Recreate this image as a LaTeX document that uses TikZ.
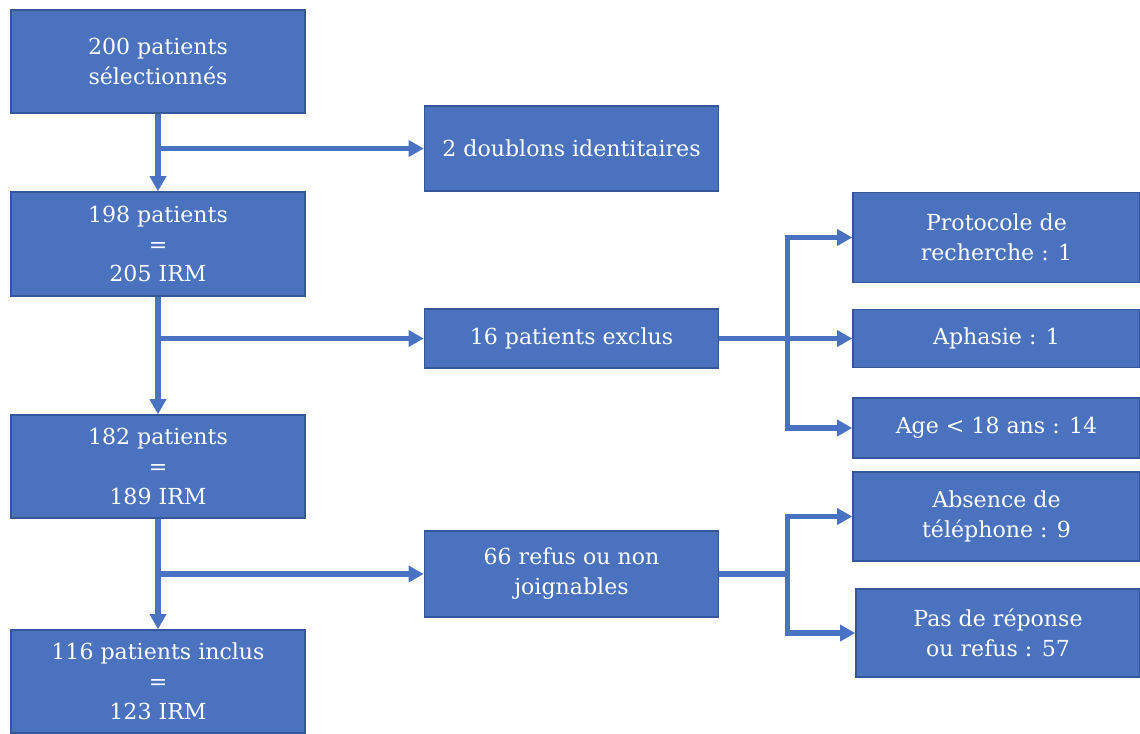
\documentclass[tikz,border=0pt]{standalone}
\usepackage{fontspec}
\setmainfont{DejaVu Serif}
\usetikzlibrary{arrows.meta}
\definecolor{boxblue}{HTML}{4A72BE}
\definecolor{boxline}{HTML}{34569A}
\definecolor{linkblue}{HTML}{4A72C2}
\tikzset{
  box/.style={draw=boxline, line width=1pt, fill=boxblue, text=white, align=center,
    inner sep=0pt, minimum width=7.35cm, font=\fontsize{15.7}{21.3}\selectfont},
  sidebox/.style={box, minimum width=7.175cm},
  link/.style={draw=linkblue, line width=3.6pt},
  arr/.style={link, -{Triangle[length=0.38cm,width=0.4cm]}},
}
\begin{document}
\begin{tikzpicture}[x=0.025cm, y=-0.025cm]
\useasboundingbox (0,0) rectangle (1140,733);
\clip (0,0) rectangle (1140,733);

\node[box, minimum height=2.575cm] (sel) at (158,61.5) {200 patients\\sélectionnés};
\node[box, minimum height=2.125cm] (doub) at (571.5,148.5) {2 doublons identitaires};
\node[box, minimum height=2.6cm] (p198) at (158,244) {198 patients\\=\\205 IRM};
\node[box, minimum height=1.475cm] (excl) at (571.5,338.5) {16 patients exclus};
\node[box, minimum height=2.575cm] (p182) at (158,466.5) {182 patients\\=\\189 IRM};
\node[box, minimum height=2.15cm] (refus) at (571.5,574) {66 refus ou non\\joignables};
\node[box, minimum height=2.575cm] (incl) at (158,681.5) {116 patients inclus\\=\\123 IRM};

\node[sidebox, minimum height=2.25cm] (proto) at (996.5,237.5) {Protocole de\\recherche : 1};
\node[sidebox, minimum height=1.45cm] (aph) at (996.5,338.5) {Aphasie : 1};
\node[sidebox, minimum height=1.5cm] (age) at (996.5,428) {Age < 18 ans : 14};
\node[sidebox, minimum height=2.225cm] (tel) at (996.5,516.5) {Absence de\\téléphone : 9};
\node[sidebox, minimum width=7.1cm, minimum height=2.2cm] (rep) at (998,633) {Pas de réponse\\ou refus : 57};

\coordinate (j1) at (sel.south |- doub.west);
\coordinate (j2) at (p198.south |- excl.west);
\coordinate (j3) at (p182.south |- refus.west);
\path (excl.east) ++(68,0) coordinate (f1);
\path (refus.east) ++(68,0) coordinate (f2);

\draw[arr] (sel.south) -- (sel.south |- p198.north);
\draw[arr] (j1) -- (doub.west);
\draw[arr] (p198.south) -- (p198.south |- p182.north);
\draw[arr] (j2) -- (excl.west);
\draw[arr] (p182.south) -- (p182.south |- incl.north);
\draw[arr] (j3) -- (refus.west);

\draw[link] (excl.east) -- (f1);
\draw[arr] (f1) |- (proto.west);
\draw[arr] (f1) -- (aph.west);
\draw[arr] (f1) |- (age.west);

\draw[link] (refus.east) -- (f2);
\draw[arr] (f2) |- (tel.west);
\draw[arr] (f2) |- (rep.west);
\end{tikzpicture}
\end{document}
